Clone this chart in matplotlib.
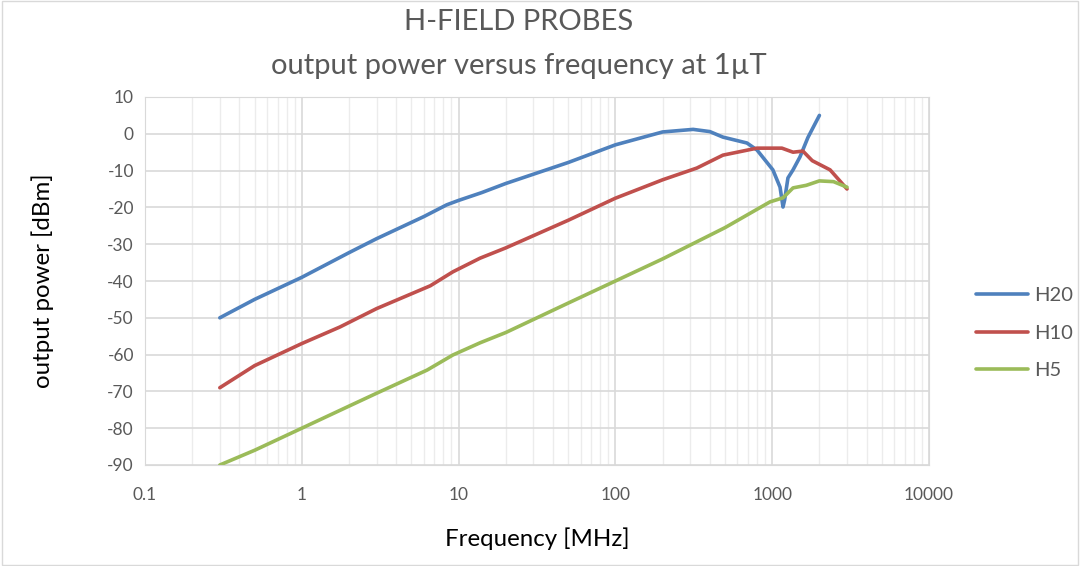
import numpy as np
import matplotlib
matplotlib.use("Agg")
import matplotlib.pyplot as plt
from matplotlib.ticker import FixedLocator, NullFormatter, FuncFormatter

plt.rcParams['font.family'] = ['Lato', 'DejaVu Sans']
plt.rcParams['axes.unicode_minus'] = False

# values
h20_freq = [0.3, 0.5, 1, 2, 3, 6, 8.4, 10, 14, 20, 50, 100, 200, 313, 400, 485, 690, 800,
            1010, 1122, 1172, 1200, 1260, 1358, 1503, 1690, 2000]
h20_dbm = [-50, -45, -39, -32.3, -28.5, -22.5, -19.3, -18.1, -16, -13.5, -7.8, -3, 0.5, 1.2, 0.6,
           -0.9, -2.5, -4.4, -9.8, -14.5, -19.9, -18, -12, -9.8, -6.3, -1, 5]

h10_freq = [0.3, 0.5, 1, 1.75, 3, 6.6, 9.2, 13.7, 20, 50, 100, 200, 331, 485, 800, 1153,
            1358, 1570, 1800, 2340, 3000]
h10_dbm = [-69, -63, -57, -52.5, -47.5, -41.3, -37.5, -33.8, -31, -23.5, -17.5, -12.5, -9.3,
           -5.8, -3.9, -3.9, -5, -4.7, -7.3, -9.8, -15]

h5_freq = [0.3, 0.5, 1, 2, 3, 6.3, 9.2, 13.7, 20, 50, 100, 200, 500, 968, 1172, 1358, 1650,
           2000, 2460, 3000]
h5_dbm = [-90, -86, -80, -74, -70.5, -64.2, -60.1, -56.8, -54, -46, -40, -34, -25.5, -18.5,
          -17.4, -14.7, -14, -12.8, -13, -14.5]

series = ['H20', 'H10', 'H5']
colors = ['#4f81bd', '#c0504d', '#9bbb59']

fig = plt.figure(figsize=(10.8, 5.66), dpi=100)
ax = fig.add_axes([145 / 1080, 1 - 465 / 566, (929 - 145) / 1080, (465 - 97) / 566])

for name, fx, fy, c in zip(series, [h20_freq, h10_freq, h5_freq],
                           [h20_dbm, h10_dbm, h5_dbm], colors):
    ax.plot(fx, fy, color=c, linewidth=2.6, label=name, solid_capstyle='round',
            solid_joinstyle='round')

ax.set_xscale('log')
ax.set_xlim(0.1, 10000)
ax.set_ylim(-90, 10)
ax.set_yticks(np.arange(-90, 11, 10))
ax.xaxis.set_major_locator(FixedLocator([0.1, 1, 10, 100, 1000, 10000]))
ax.xaxis.set_major_formatter(FuncFormatter(lambda v, _: f'{v:g}'))
ax.xaxis.set_minor_formatter(NullFormatter())

ax.grid(True, which='major', color='#d9d9d9', linewidth=1.2)
ax.grid(True, which='minor', axis='x', color='#ececec', linewidth=1.0)
ax.set_axisbelow(True)
for s in ax.spines.values():
    s.set_color('#d9d9d9')
ax.tick_params(which='both', length=0, labelsize=12.5, colors='#595959', pad=8)
ax.tick_params(axis='x', pad=16)

ax.set_xlabel('Frequency [MHz]', fontsize=17.3, color='black')
ax.set_ylabel('output power [dBm]', fontsize=17.3, color='black')
ax.xaxis.set_label_coords(0.5, (465 - 527) / 368)
ax.yaxis.set_label_coords((54 - 145) / 784, 0.5)

fig.text(519 / 1080, 1 - 22 / 566, 'H-FIELD PROBES', ha='center', va='center',
         fontsize=21, color='#595959')
fig.text(519 / 1080, 1 - 66 / 566, 'output power versus frequency at 1µT', ha='center',
         va='center', fontsize=21, color='#595959')

fig.legend(loc='center left', bbox_to_anchor=(958 / 1080, 1 - 333 / 566), frameon=False,
           fontsize=14.5, handlelength=2.6, labelspacing=1.0, handletextpad=0.3,
           labelcolor='#595959')

fig.patches.append(plt.Rectangle((0.002, 0.002), 0.996, 0.996, transform=fig.transFigure,
                                 fill=False, edgecolor='#d9d9d9', linewidth=1))

fig.savefig('out.png', dpi=100, facecolor='white')
